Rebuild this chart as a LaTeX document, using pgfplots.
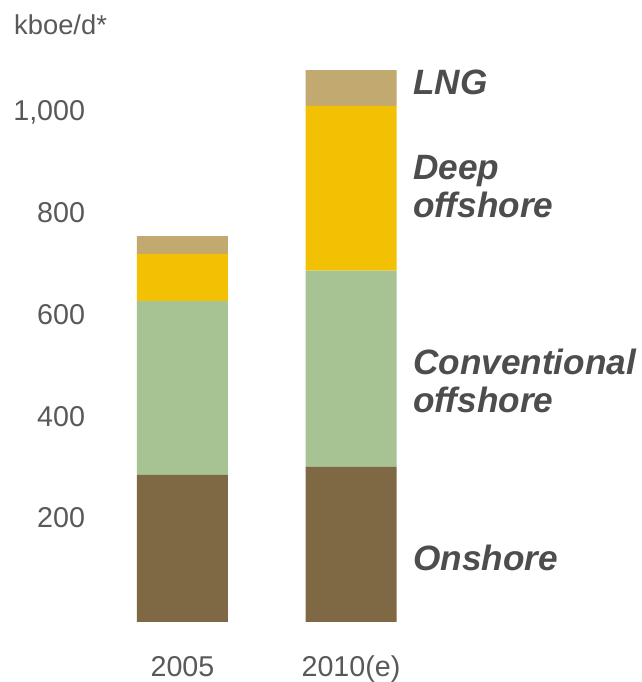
\documentclass[border=0pt]{standalone}
\usepackage{pgfplots}
\pgfplotsset{compat=1.18}
\usepackage{fontspec}
\setmainfont{Liberation Sans}

\definecolor{onshore}{HTML}{7F6945}
\definecolor{convoff}{HTML}{A7C293}
\definecolor{deepoff}{HTML}{F3C104}
\definecolor{lngcol}{HTML}{C1A96F}
\definecolor{ticktext}{HTML}{595959}
\definecolor{labtext}{HTML}{4D4D4D}

\tikzset{seglab/.style={anchor=west, inner sep=0pt, align=left,
    font=\fontsize{26.4}{28.5}\selectfont\bfseries\itshape, text=labtext}}

\begin{document}
\begin{tikzpicture}
\begin{axis}[
    name=ax,
    scale only axis,
    width=261.75pt, height=420pt,
    xmin=-0.537, xmax=1.534,
    ymin=0, ymax=1100,
    ybar stacked,
    bar width=0.54,
    axis line style={draw=none},
    major tick length=0pt,
    clip=false,
    xtick={0,1},
    xticklabels={2005, 2010(e)},
    ytick={200,400,600,800,1000},
    /pgf/number format/assume math mode=true,
    /pgf/number format/1000 sep={,},
    ticklabel style={font=\fontsize{21.5}{25}\selectfont, text=ticktext},
    xticklabel style={anchor=base, yshift=-41pt},
    yticklabel style={anchor=base east, inner sep=0pt, xshift=-5pt, yshift=-5.8pt},
]
    % Onshore
    \addplot[fill=onshore, draw=none] coordinates {(0,289) (1,305)};
    % Conventional offshore
    \addplot[fill=convoff, draw=none] coordinates {(0,342) (1,385)};
    % Deep offshore
    \addplot[fill=deepoff, draw=none] coordinates {(0,92) (1,324)};
    % LNG
    \addplot[fill=lngcol, draw=none] coordinates {(0,35) (1,70)};

    % unit label
    \node[anchor=west, inner sep=0pt, font=\fontsize{20.5}{24}\selectfont, text=ticktext]
        at (axis cs:-1.000,1173) {kboe/d*};

    % segment labels
    \node[seglab] at (axis cs:1.367,1059) {LNG};
    \node[seglab] at (axis cs:1.367,855) {Deep\\offshore};
    \node[seglab] at (axis cs:1.367,474) {Conventional\\offshore};
    \node[seglab] at (axis cs:1.367,126) {Onshore};
\end{axis}
\pgfresetboundingbox
\path[use as bounding box] (ax.south west) ++(-69pt,-45pt) rectangle ++(481.5pt,511.5pt);
\end{tikzpicture}
\end{document}
